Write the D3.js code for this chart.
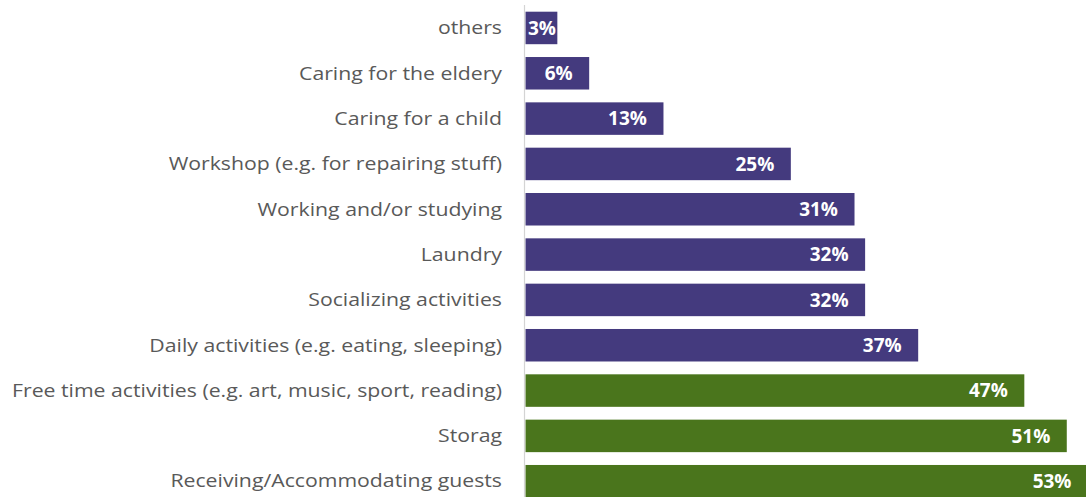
<!DOCTYPE html>
<html>
<head>
<meta charset="utf-8">
<script src="https://cdn.jsdelivr.net/npm/d3@7"></script>
<style>
  html, body { margin: 0; padding: 0; background: #fff; overflow: hidden; }
  svg { display: block; }
</style>
</head>
<body>
<svg id="chart" width="1086" height="497"></svg>
<script>
// Uses of the extra room, share of respondents (%)
const categories = [
  "others",
  "Caring for the eldery",
  "Caring for a child",
  "Workshop (e.g. for repairing stuff)",
  "Working and/or studying",
  "Laundry",
  "Socializing activities",
  "Daily activities (e.g. eating, sleeping)",
  "Free time activities (e.g. art, music, sport, reading)",
  "Storag",
  "Receiving/Accommodating guests"
];
const values = [3, 6, 13, 25, 31, 32, 32, 37, 47, 51, 53];
// top three answers highlighted
const groups = ["other", "other", "other", "other", "other", "other", "other", "other", "top", "top", "top"];

const colors = { other: "#443a7e", top: "#4a751c" };

const svg = d3.select("#chart");
const W = 1086, H = 497;
const axisX = 524.5;

const x = d3.scaleLinear().domain([0, 53]).range([525.5, 1088]);
const y = d3.scaleBand()
  .domain(categories)
  .range([-1.13, 510.3])
  .padding(0.283);

const data = categories.map((c, i) => ({ cat: c, value: values[i], group: groups[i] }));

// bars
svg.append("g").selectAll("rect")
  .data(data)
  .join("rect")
  .attr("x", x(0))
  .attr("y", d => y(d.cat))
  .attr("width", d => x(d.value) - x(0))
  .attr("height", y.bandwidth())
  .attr("fill", d => colors[d.group]);

// vertical category axis line
svg.append("line")
  .attr("x1", axisX).attr("x2", axisX)
  .attr("y1", 5).attr("y2", H)
  .attr("stroke", "#d4d4d4")
  .attr("stroke-width", 1.2);

// category labels, narrowed uniformly so the longest fits the left margin
const labelG = svg.append("g")
  .attr("font-family", "'Open Sans', 'Noto Sans', sans-serif")
  .attr("font-size", 19)
  .attr("fill", "#595959");
const labels = labelG.selectAll("text")
  .data(data)
  .join("text")
  .attr("x", 502)
  .attr("y", d => y(d.cat) + y.bandwidth() / 2)
  .attr("dy", "0.33em")
  .attr("text-anchor", "end")
  .text(d => d.cat);
let maxW = 0;
labels.each(function () { maxW = Math.max(maxW, this.getComputedTextLength()); });
const squeeze = 490 / maxW;
labels.each(function () {
  const w = this.getComputedTextLength();
  d3.select(this).attr("textLength", w * squeeze).attr("lengthAdjust", "spacingAndGlyphs");
});

// value labels inside the bar ends
const valG = svg.append("g")
  .attr("font-family", "'Open Sans', 'Noto Sans', sans-serif")
  .attr("font-weight", "bold")
  .attr("font-size", 19)
  .attr("fill", "#ffffff");
valG.selectAll("text")
  .data(data)
  .join("text")
  .attr("y", d => y(d.cat) + y.bandwidth() / 2)
  .attr("dy", "0.36em")
  .attr("text-anchor", "end")
  .text(d => d.value + "%")
  .each(function (d) {
    const w = this.getComputedTextLength();
    const end = Math.max(x(d.value) - 16.5, x(0) + w + 2.5);
    d3.select(this).attr("x", end);
  });
</script>
</body>
</html>
